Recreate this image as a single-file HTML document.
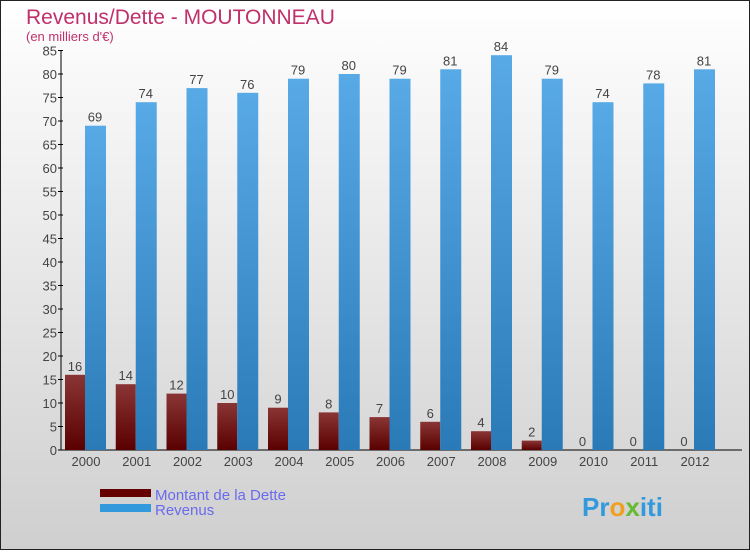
<!DOCTYPE html>
<html><head><meta charset="utf-8"><style>
html,body{margin:0;padding:0}
body{width:750px;height:550px;overflow:hidden;font-family:"Liberation Sans",sans-serif}
</style></head><body>
<svg width="750" height="550" xmlns="http://www.w3.org/2000/svg">
<defs>
<linearGradient id="bg" x1="0" y1="0" x2="0" y2="1"><stop offset="0" stop-color="#ffffff"/><stop offset="1" stop-color="#cfcfcf"/></linearGradient>
<linearGradient id="red" x1="0" y1="0" x2="0" y2="1"><stop offset="0" stop-color="#8a3535"/><stop offset="1" stop-color="#5a0000"/></linearGradient>
<linearGradient id="blue" x1="0" y1="0" x2="0" y2="1"><stop offset="0" stop-color="#58aae6"/><stop offset="1" stop-color="#2a7ab8"/></linearGradient>
</defs>
<rect x="0.5" y="0.5" width="749" height="549" fill="url(#bg)" stroke="#222"/>
<text x="26" y="24" font-size="21" fill="#c0306a">Revenus/Dette - MOUTONNEAU</text>
<text x="26" y="41" font-size="13" fill="#c0306a">(en milliers d'€)</text>
<g id="axes"></g>
<g id="bars"></g>
<rect x="100" y="489" width="51" height="8" fill="#640000"/>
<text x="155" y="500" font-size="15" fill="#6a6aee">Montant de la Dette</text>
<rect x="100" y="504" width="51" height="8" fill="#3399dd"/>
<text x="155" y="515" font-size="15" fill="#6a6aee">Revenus</text>
<text x="582" y="516" font-size="26" font-weight="bold"><tspan fill="#3399dd">Pr</tspan><tspan fill="#f0a020">o</tspan><tspan fill="#66bb33">x</tspan><tspan fill="#3399dd">iti</tspan></text>
</svg>
<script>
const years=["2000","2001","2002","2003","2004","2005","2006","2007","2008","2009","2010","2011","2012"];
const dette=[16,14,12,10,9,8,7,6,4,2,0,0,0];
const revenus=[69,74,77,76,79,80,79,81,84,79,74,78,81];
const yTicks=[0,5,10,15,20,25,30,35,40,45,50,55,60,65,70,75,80,85];
const NS="http://www.w3.org/2000/svg";
const y0=450,pxu=4.7,x0=61,step=50.75;
const y=v=>y0-v*pxu;
const xr=i=>65+i*step;
function mk(t,a,p){const e=document.createElementNS(NS,t);for(const k in a)e.setAttribute(k,a[k]);p.appendChild(e);return e;}
const ax=document.getElementById('axes'),bg=document.getElementById('bars');
let l=mk('line',{x1:x0,y1:y(85),x2:x0,y2:y0,stroke:'#000'},ax);


l=mk('line',{x1:x0,y1:y0,x2:742,y2:y0,stroke:'#000'},ax);


yTicks.forEach(v=>{
 mk('line',{x1:x0-3,y1:y(v),x2:x0+2,y2:y(v),stroke:'#000'},ax);
 const t=mk('text',{x:x0-4,y:y(v)+5,'font-size':13,fill:'#444','text-anchor':'end'},ax);
 t.textContent=v;
 
 
});
years.forEach((yr,i)=>{
 const t=mk('text',{x:xr(i)+21,y:466,'font-size':13,fill:'#444','text-anchor':'middle'},ax);
 t.textContent=yr;
 
 
 const r=mk('rect',{x:xr(i),y:y(dette[i]),width:20,height:dette[i]*pxu,fill:'url(#red)'},bg);
 
 
 const b=mk('rect',{x:xr(i)+20,y:y(revenus[i]),width:21,height:revenus[i]*pxu,fill:'url(#blue)'},bg);
 
 
 const ld=mk('text',{x:xr(i)+10,y:y(dette[i])-4,'font-size':13,fill:'#444','text-anchor':'middle'},bg);
 ld.textContent=dette[i];
 
 
 const lr=mk('text',{x:xr(i)+30,y:y(revenus[i])-4,'font-size':13,fill:'#444','text-anchor':'middle'},bg);
 lr.textContent=revenus[i];
 
 
});
</script>
</body></html>
